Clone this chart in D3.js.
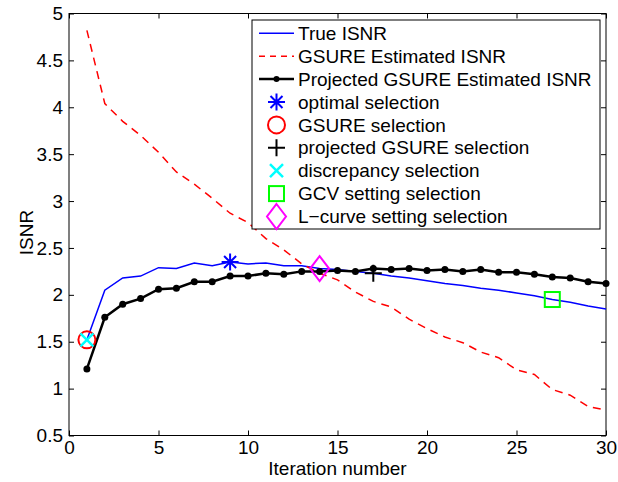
<!DOCTYPE html>
<html lang="en">
<head>
  <meta charset="UTF-8" />
  <title>ISNR vs iteration</title>
  <script src="https://cdn.jsdelivr.net/npm/d3@7/dist/d3.min.js"></script>
  <style>
    body { margin: 0; background: #fff; }
    text { font-family: "Liberation Sans", Arial, sans-serif; fill: #000; }
  </style>
</head>
<body>
  <svg width="618" height="482"></svg>

  <script>
    // iterations 1..30
    const iterations = d3.range(1, 31);

    // true ISNR
    const trueIsnr = [1.52, 2.05, 2.18, 2.20, 2.29, 2.28, 2.34, 2.31, 2.35, 2.33,
      2.34, 2.31, 2.31, 2.28, 2.27, 2.25, 2.23, 2.20, 2.18, 2.15,
      2.12, 2.10, 2.07, 2.05, 2.02, 1.99, 1.95, 1.92, 1.88, 1.85];

    // GSURE estimated ISNR
    const gsureIsnr = [4.82, 4.04, 3.85, 3.70, 3.52, 3.31, 3.18, 3.03, 2.87, 2.77,
      2.60, 2.48, 2.33, 2.23, 2.16, 2.03, 1.93, 1.87, 1.74, 1.64,
      1.55, 1.49, 1.39, 1.33, 1.20, 1.15, 0.99, 0.93, 0.81, 0.77];

    // projected GSURE estimated ISNR
    const projIsnr = [1.21, 1.76, 1.90, 1.96, 2.06, 2.07, 2.14, 2.14, 2.20, 2.20,
      2.23, 2.22, 2.25, 2.25, 2.26, 2.25, 2.28, 2.27, 2.28, 2.26,
      2.27, 2.25, 2.27, 2.24, 2.24, 2.22, 2.19, 2.18, 2.14, 2.12];

    // selected iterations (marker sits on the true ISNR)
    const selections = [
      { name: 'optimal selection', iter: 9, shape: 'star', color: '#0000ff' },
      { name: 'GSURE selection', iter: 1, shape: 'circle', color: '#ff0000' },
      { name: 'projected GSURE selection', iter: 17, shape: 'plus', color: '#000000' },
      { name: 'discrepancy selection', iter: 1, shape: 'x', color: '#00ffff' },
      { name: 'GCV setting selection', iter: 27, shape: 'square', color: '#00ff00' },
      { name: 'L\u2212curve setting selection', iter: 14, shape: 'diamond', color: '#ff00ff' },
    ];

    const xTicks = [0, 5, 10, 15, 20, 25, 30];
    const yTicks = [0.5, 1, 1.5, 2, 2.5, 3, 3.5, 4, 4.5, 5];

    const svg = d3.select('svg');
    const margin = { left: 69, right: 12, top: 13.5, bottom: 46.5 };
    const width = 618 - margin.left - margin.right;
    const height = 482 - margin.top - margin.bottom;
    const fs = 19;

    const x = d3.scaleLinear().domain([0, 30]).range([0, width]);
    const y = d3.scaleLinear().domain([0.5, 5]).range([height, 0]);

    const g = svg.append('g').attr('transform', `translate(${margin.left},${margin.top})`);

    // axes, ticks inward on all four sides
    function styleAxis(sel, labels) {
      sel.select('.domain').remove();
      sel.selectAll('line').attr('stroke', '#000');
      sel.selectAll('text').style('font-size', fs + 'px');
      if (!labels) sel.selectAll('text').remove();
    }
    g.append('g').attr('transform', `translate(0,${height})`)
      .call(d3.axisBottom(x).tickValues(xTicks).tickSize(-5).tickPadding(5).tickFormat(d3.format('d')))
      .call(styleAxis, true);
    g.append('g')
      .call(d3.axisTop(x).tickValues(xTicks).tickSize(-5))
      .call(styleAxis, false);
    g.append('g')
      .call(d3.axisLeft(y).tickValues(yTicks).tickSize(-5).tickPadding(6).tickFormat(d3.format('')))
      .call(styleAxis, true);
    g.append('g').attr('transform', `translate(${width},0)`)
      .call(d3.axisRight(y).tickValues(yTicks).tickSize(-5))
      .call(styleAxis, false);

    g.append('rect').attr('width', width).attr('height', height)
      .attr('fill', 'none').attr('stroke', '#000').attr('stroke-width', 1);

    g.append('text').attr('x', width / 2).attr('y', height + 39)
      .attr('text-anchor', 'middle').style('font-size', fs + 'px').text('Iteration number');
    g.append('text').attr('transform', `translate(${-36},${height / 2 + 8}) rotate(-90)`)
      .attr('text-anchor', 'middle').style('font-size', fs + 'px').text('ISNR');

    // curves
    const line = d3.line().x((d, i) => x(iterations[i])).y((d) => y(d));

    g.append('path').datum(trueIsnr).attr('d', line)
      .attr('fill', 'none').attr('stroke', '#0000ff').attr('stroke-width', 1.5);
    g.append('path').datum(gsureIsnr).attr('d', line)
      .attr('fill', 'none').attr('stroke', '#ff0000').attr('stroke-width', 1.5)
      .attr('stroke-dasharray', '8,6');
    g.append('path').datum(projIsnr).attr('d', line)
      .attr('fill', 'none').attr('stroke', '#000').attr('stroke-width', 2.5);
    g.append('g').selectAll('circle').data(projIsnr).enter().append('circle')
      .attr('cx', (d, i) => x(iterations[i])).attr('cy', (d) => y(d))
      .attr('r', 3.5).attr('fill', '#000');

    // marker drawing
    function marker(sel, shape, color) {
      const sw = 2;
      if (shape === 'circle') {
        sel.append('circle').attr('r', 8.5).attr('fill', 'none').attr('stroke', color).attr('stroke-width', sw);
      } else if (shape === 'square') {
        sel.append('rect').attr('x', -7.5).attr('y', -7.5).attr('width', 15).attr('height', 15)
          .attr('fill', 'none').attr('stroke', color).attr('stroke-width', sw);
      } else if (shape === 'diamond') {
        sel.append('path').attr('d', 'M0,-12.5L9.5,0L0,12.5L-9.5,0Z')
          .attr('fill', 'none').attr('stroke', color).attr('stroke-width', sw);
      } else if (shape === 'plus') {
        sel.append('path').attr('d', 'M-8.5,0H8.5M0,-8.5V8.5')
          .attr('stroke', color).attr('stroke-width', sw);
      } else if (shape === 'x') {
        sel.append('path').attr('d', 'M-6.5,-6.5L6.5,6.5M-6.5,6.5L6.5,-6.5')
          .attr('stroke', color).attr('stroke-width', 2.5);
      } else if (shape === 'star') {
        sel.append('path').attr('d', 'M-8.5,0H8.5M0,-8.5V8.5M-6,-6L6,6M-6,6L6,-6')
          .attr('stroke', color).attr('stroke-width', sw);
      }
    }

    selections.forEach((s) => {
      const m = g.append('g')
        .attr('transform', `translate(${x(s.iter)},${y(trueIsnr[s.iter - 1])})`);
      marker(m, s.shape, s.color);
    });

    // legend
    const lg = svg.append('g').attr('transform', 'translate(252,20)');
    lg.append('rect').attr('width', 348).attr('height', 209)
      .attr('fill', '#fff').attr('stroke', '#000').attr('stroke-width', 1);

    const rowH = 22.9;
    const rowY = (i) => 13.3 + i * rowH;
    const lineItems = [
      { name: 'True ISNR', color: '#0000ff', width: 1.5, dash: null, dot: false },
      { name: 'GSURE Estimated ISNR', color: '#ff0000', width: 1.5, dash: '6,5', dot: false },
      { name: 'Projected GSURE Estimated ISNR', color: '#000', width: 2.5, dash: null, dot: true },
    ];
    lineItems.forEach((it, i) => {
      lg.append('line').attr('x1', 7).attr('x2', 42).attr('y1', rowY(i)).attr('y2', rowY(i))
        .attr('stroke', it.color).attr('stroke-width', it.width)
        .attr('stroke-dasharray', it.dash);
      if (it.dot) lg.append('circle').attr('cx', 24.5).attr('cy', rowY(i)).attr('r', 3).attr('fill', it.color);
      lg.append('text').attr('x', 46).attr('y', rowY(i)).attr('dy', '0.35em')
        .style('font-size', fs + 'px').text(it.name);
    });
    selections.forEach((s, j) => {
      const i = j + 3;
      const m = lg.append('g').attr('transform', `translate(24.5,${rowY(i)})`);
      marker(m, s.shape, s.color);
      lg.append('text').attr('x', 46).attr('y', rowY(i)).attr('dy', '0.35em')
        .style('font-size', fs + 'px').text(s.name);
    });
  </script>
</body>
</html>
